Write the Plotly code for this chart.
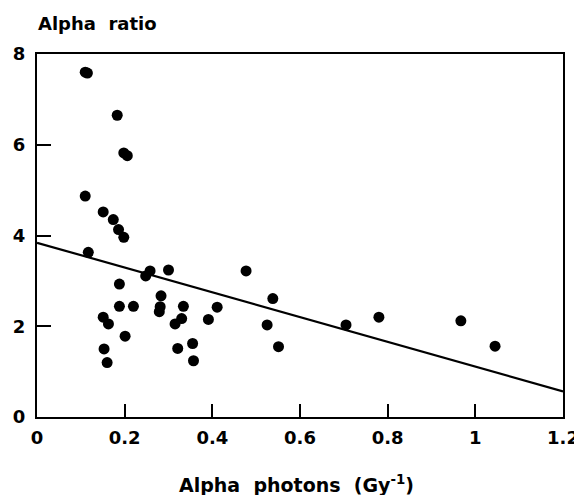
import plotly.graph_objects as go

# Data
alpha_photons = [0.110, 0.115, 0.183, 0.198, 0.206, 0.110, 0.151, 0.174, 0.186, 0.198,
                 0.117, 0.258, 0.248, 0.300, 0.477, 0.538, 0.188, 0.188, 0.220,
                 0.283, 0.281, 0.279, 0.334, 0.315, 0.330, 0.391, 0.411, 0.525, 0.551,
                 0.151, 0.163, 0.201, 0.153, 0.160, 0.321, 0.355, 0.357,
                 0.705, 0.780, 0.967, 1.045]
alpha_ratio = [7.60, 7.58, 6.65, 5.82, 5.76, 4.87, 4.52, 4.35, 4.13, 3.96,
               3.63, 3.22, 3.11, 3.24, 3.22, 2.61, 2.93, 2.44, 2.44,
               2.67, 2.43, 2.32, 2.44, 2.05, 2.17, 2.15, 2.42, 2.03, 1.55,
               2.20, 2.05, 1.78, 1.50, 1.20, 1.51, 1.62, 1.24,
               2.03, 2.20, 2.12, 1.56]

fit_intercept = 3.84
fit_slope = -2.73
fit_x = [0.0, 1.2]
fit_y = [fit_intercept + fit_slope * v for v in fit_x]

x_ticks = [0, 0.2, 0.4, 0.6, 0.8, 1.0, 1.2]
x_tick_labels = ["0", "0.2", "0.4", "0.6", "0.8", "1", "1.2"]
y_ticks = [0, 2, 4, 6, 8]
y_tick_labels = ["0", "2", "4", "6", "8"]

font_family = "DejaVu Sans, sans-serif"

fig = go.Figure()
fig.add_trace(go.Scatter(x=fit_x, y=fit_y, mode="lines",
                         line=dict(color="black", width=2.2),
                         showlegend=False, hoverinfo="skip"))
fig.add_trace(go.Scatter(x=alpha_photons, y=alpha_ratio, mode="markers",
                         marker=dict(color="black", size=11, line=dict(width=0)),
                         showlegend=False))

axis_common = dict(showgrid=False, zeroline=False, showline=True, linecolor="black",
                   linewidth=2, mirror=True, ticks="inside", tickcolor="black",
                   tickwidth=2, automargin=False,
                   tickfont=dict(family=font_family, size=18, color="black", weight="bold"))

fig.update_xaxes(range=[0, 1.2], tickvals=x_ticks, ticktext=x_tick_labels,
                 ticklen=13, ticklabelstandoff=3, **axis_common)
fig.update_yaxes(range=[0, 8], tickvals=y_ticks, ticktext=y_tick_labels,
                 ticklen=14, ticklabelstandoff=6, **axis_common)

fig.add_annotation(text="Alpha\u00a0\u00a0ratio", xref="paper", yref="paper",
                   x=0, y=1, xanchor="left", yanchor="middle", yshift=31, xshift=-1,
                   showarrow=False,
                   font=dict(family=font_family, size=18, color="black", weight="bold"))
fig.add_annotation(text="Alpha\u00a0\u00a0photons\u00a0\u00a0(Gy<sup>-1</sup>)",
                   xref="paper", yref="paper",
                   x=0.5, y=0, xanchor="center", yanchor="middle", yshift=-67, xshift=-4,
                   showarrow=False,
                   font=dict(family=font_family, size=19, color="black", weight="bold"))

# page body keeps an 8 px margin, so the figure is sized to fit inside the window
fig.update_layout(width=574, height=487, plot_bgcolor="white", paper_bgcolor="white",
                  margin=dict(l=29, r=19, t=46, b=78))

fig.write_html("out.html")
